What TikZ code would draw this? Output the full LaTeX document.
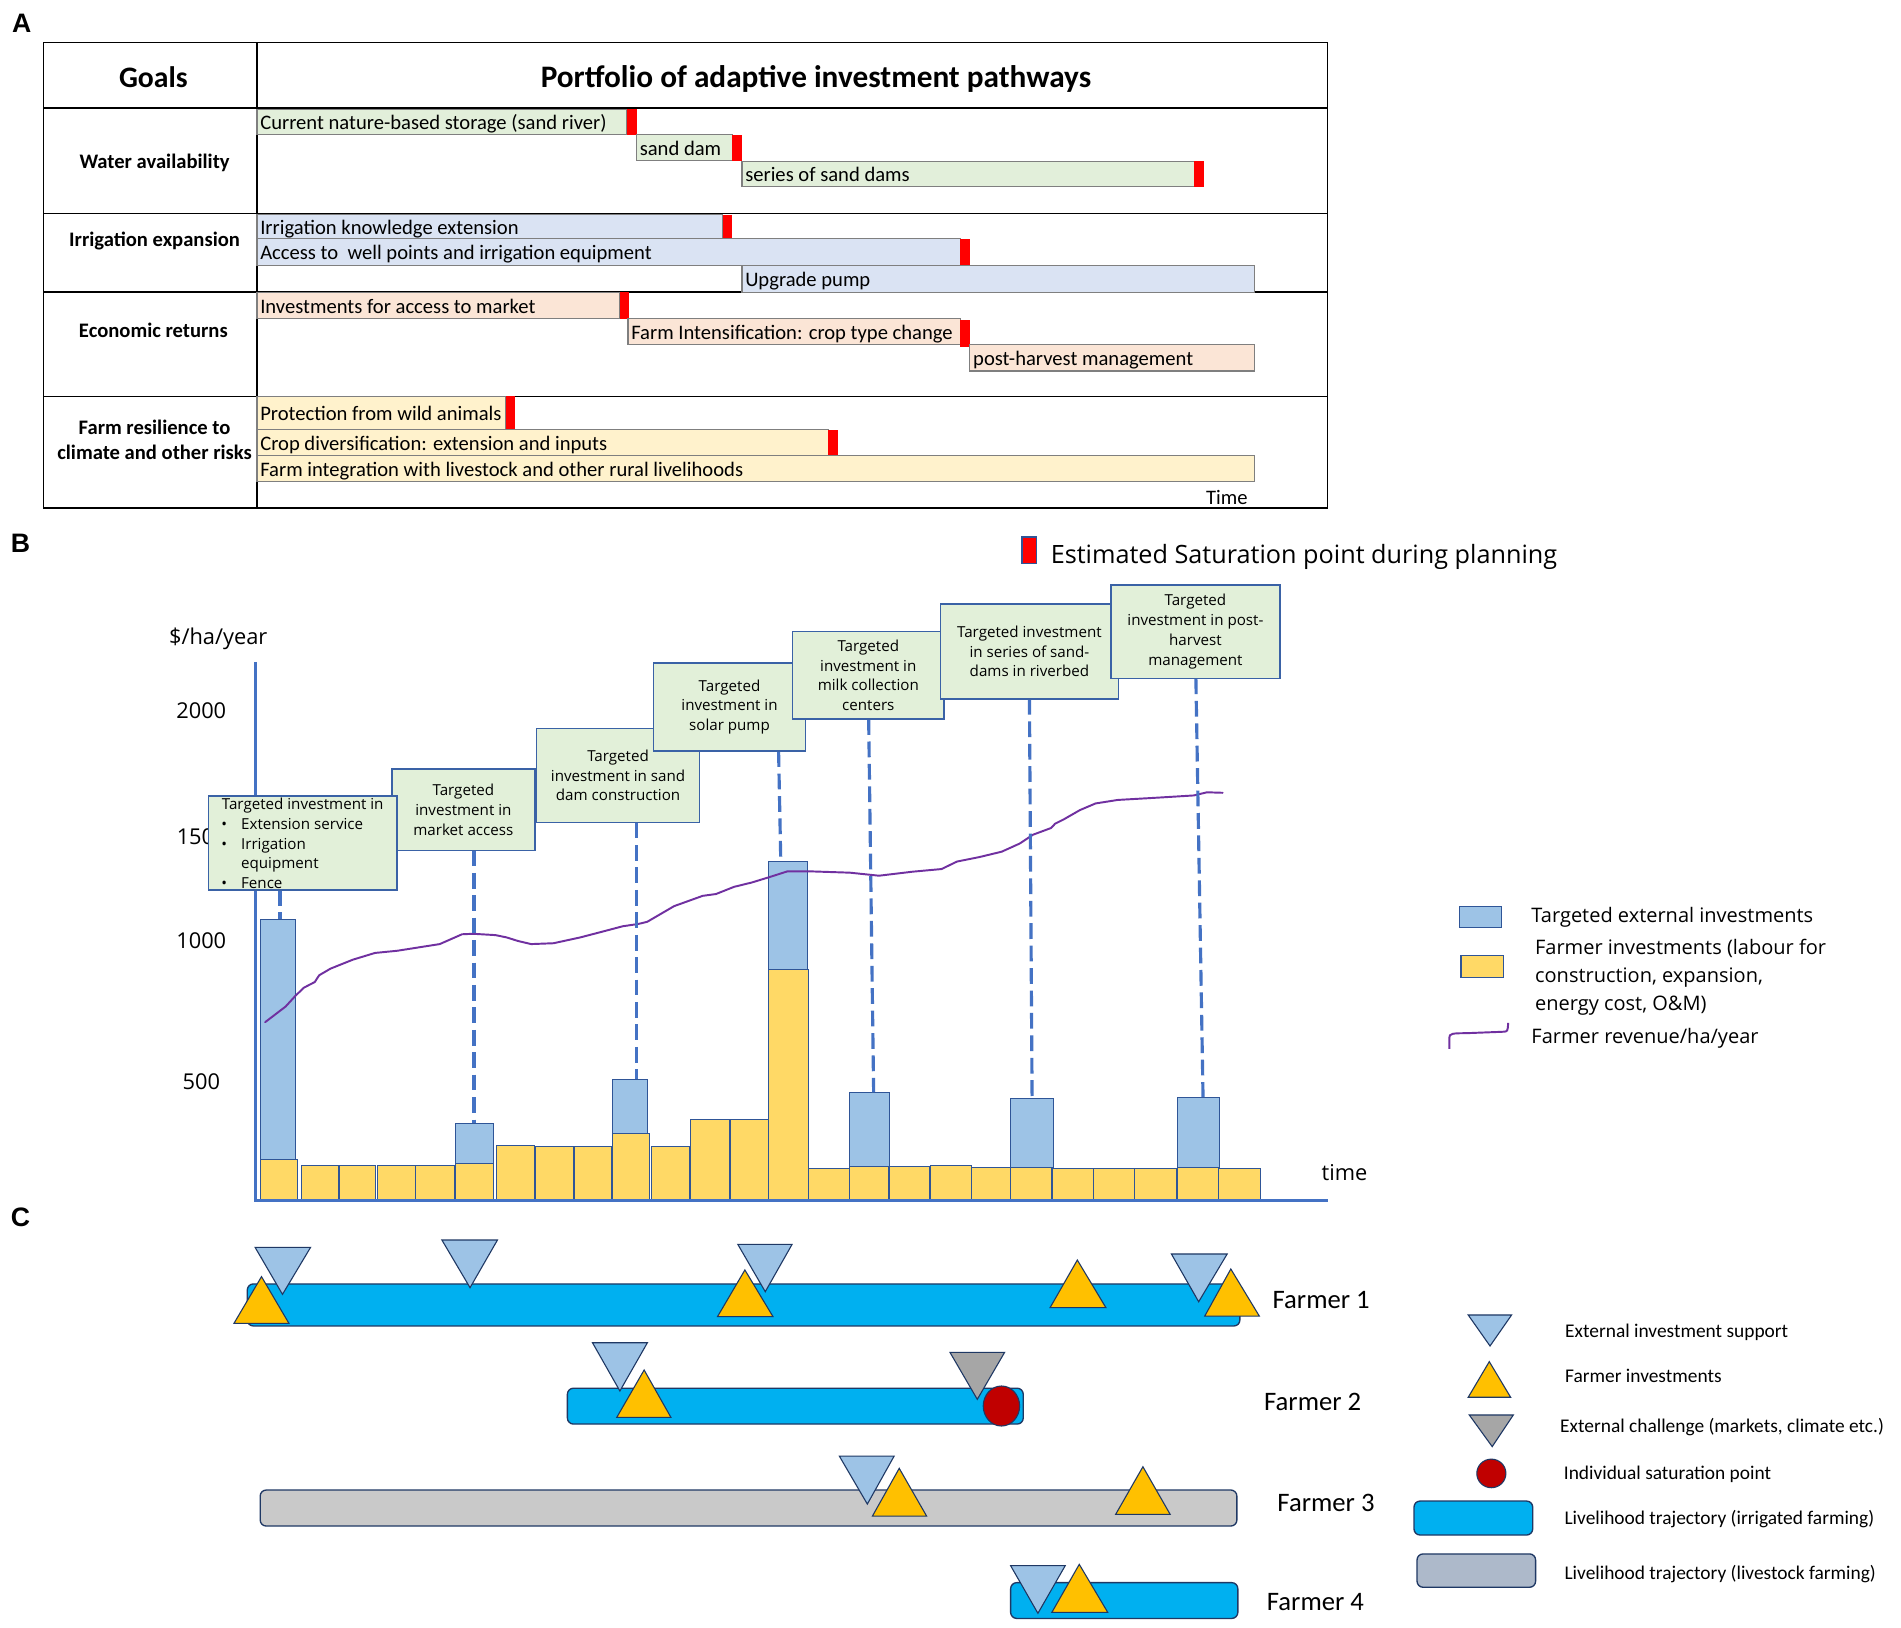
\documentclass[tikz,border=0pt]{standalone}
\usepackage{fontspec}
\setmainfont{Carlito}
\newfontfamily\osans{Open Sans}
\newfontfamily\lsans{Liberation Sans}
\definecolor{greenA}{HTML}{E2EFDA}
\definecolor{blueA}{HTML}{DAE3F3}
\definecolor{peachA}{HTML}{FBE5D6}
\definecolor{yellowA}{HTML}{FFF2CC}
\definecolor{barline}{HTML}{7F7F7F}
\definecolor{satred}{HTML}{FF0000}
\definecolor{axisblue}{HTML}{4472C4}
\definecolor{boxfill}{HTML}{E2F0D9}
\definecolor{boxline}{HTML}{3A62A6}
\definecolor{ybarfill}{HTML}{FFD966}
\definecolor{bbarfill}{HTML}{9DC3E6}
\definecolor{bbarline}{HTML}{2F5597}
\definecolor{revpurple}{HTML}{7030A0}
\definecolor{cyanC}{HTML}{00B0F0}
\definecolor{navyC}{HTML}{1F3864}
\definecolor{grayC}{HTML}{C9C9C9}
\definecolor{triblue}{HTML}{9DC3E6}
\definecolor{triyel}{HTML}{FFC000}
\definecolor{trigray}{HTML}{A6A6A6}
\definecolor{redC}{HTML}{C00000}
\definecolor{livegray}{HTML}{ADB9CA}
\newcommand\pbar[7]{%
  \filldraw[fill=#6, pbarline] (#2,#3) rectangle (#4,#5);
  \node[bartxt] (#1) at ({#2+2.5},{(#3+#5)/2+6.3}) {#7};}
\newcommand\satmark[4]{\fill[satred] (#1,#2) rectangle (#3,#4);}
\newcommand\ybar[3]{\filldraw[fill=ybarfill, bbarstyle] (#1,#3) rectangle (#2,989.5);}
\newcommand\bbar[4]{\filldraw[fill=bbarfill, bbarstyle] (#1,#3) rectangle (#2,#4);}
\newcommand\tri[6]{\filldraw[fill=#6, tristyle] (#1,#3) -- (#2,#3) -- (#4,#5) -- cycle;}
\newcommand\dashln[5]{\coordinate (#1a) at (#2,#3); \coordinate (#1b) at (#4,#5); \draw[dashstyle] (#1a) -- (#1b);}
\newcommand\bul{\makebox[16.3pt][l]{\textbullet}}
\begin{document}
\begin{tikzpicture}[x=1pt,y=-1pt,
  lab/.style={font=\lsans\bfseries\fontsize{22}{26}\selectfont, inner sep=0},
  hdr/.style={font=\bfseries\fontsize{24.5}{29}\selectfont, inner sep=0, anchor=base},
  goal/.style={font=\bfseries\fontsize{17}{21}\selectfont, inner sep=0, anchor=base},
  bartxt/.style={font=\fontsize{17}{20}\selectfont, inner sep=0, anchor=base west},
  tbl/.style={draw=black, line width=1.2pt},
  pbarline/.style={draw=barline, line width=0.9pt},
  bbarstyle/.style={draw=bbarline, line width=0.8pt},
  tristyle/.style={draw=navyC, line width=0.9pt, line join=miter},
  dashstyle/.style={draw=axisblue, line width=2.6pt, dash pattern=on 13pt off 5.5pt},
  tbox/.style={draw=boxline, fill=boxfill, line width=1.3pt, inner sep=0, align=center,
     font=\osans\fontsize{12.5}{16.3}\selectfont},
  btxt/.style={font=\osans\fontsize{12.5}{16.3}\selectfont, inner sep=0, align=left, anchor=west},
  axlbl/.style={font=\osans\fontsize{18}{22}\selectfont, inner sep=0, anchor=base},
  legB/.style={font=\osans\fontsize{16.5}{23}\selectfont, inner sep=0, anchor=base west},
  farm/.style={font=\fontsize{22}{26}\selectfont, inner sep=0, anchor=base},
  legC/.style={font=\fontsize{16}{19}\selectfont, inner sep=0, anchor=base west},
  traj/.style={draw=navyC, line width=1.1pt, rounded corners=5pt},
]
\useasboundingbox (0,0) rectangle (1568,1342);
\fill[white] (0,0) rectangle (1568,1342);

% ================= Panel A =================
\node[lab] (labA) at (18,19) {A};
\draw[tbl] (36,35) rectangle (1095,419);
\draw[tbl] (36,89) -- (1095,89);
\draw[tbl] (36,176) -- (1095,176);
\draw[tbl] (36,241) -- (1095,241);
\draw[tbl] (36,327) -- (1095,327);
\draw[tbl] (212,35) -- (212,419);
\node[hdr] (hgoals) at (126.5,72) {Goals};
\node[hdr, font=\bfseries\fontsize{25.8}{30}\selectfont] (hport) at (673,72) {Portfolio of adaptive investment pathways};
\node[goal] (gwater) at (127.5,139) {Water availability};
\node[goal] (girr) at (127.5,203.5) {Irrigation expansion};
\node[goal] (gecon) at (126.5,278.5) {Economic returns};
\node[goal] (gres1) at (127.5,358) {Farm resilience to};
\node[goal] (gres2) at (127.5,379) {climate and other risks};

\pbar{p1}{212}{90}{517}{111}{greenA}{Current nature-based storage (sand river)}
\satmark{517}{90}{525}{111}
\pbar{p2}{525}{111}{604}{132.5}{greenA}{sand dam}
\satmark{604}{111}{612}{132.5}
\pbar{p3}{612}{133}{985}{154}{greenA}{series of sand dams}
\satmark{985}{133}{993}{154}

\pbar{p4}{212}{177}{596}{197}{blueA}{Irrigation knowledge extension}
\satmark{596}{177}{604}{197}
\pbar{p5}{212}{197}{792}{219}{blueA}{Access to\ \ well points and irrigation equipment}
\satmark{792}{197}{800}{219}
\pbar{p6}{612}{219}{1035}{241}{blueA}{Upgrade pump}

\pbar{p7}{212}{241}{511}{263}{peachA}{Investments for access to market}
\satmark{511}{241}{519}{263}
\pbar{p8}{518}{263}{792}{284.5}{peachA}{Farm Intensification: crop type change}
\satmark{792}{264}{800}{286}
\pbar{p9}{800}{284.5}{1035}{306}{peachA}{post-harvest management}

\pbar{p10}{212}{327}{417}{354.5}{yellowA}{Protection from wild animals}
\satmark{417}{327}{425}{354.5}
\pbar{p11}{212}{354.5}{683}{376}{yellowA}{Crop diversification: extension and inputs}
\satmark{683}{354.5}{691}{376}
\pbar{p12}{212}{376}{1035}{397}{yellowA}{Farm integration with livestock and other rural livelihoods}
\node[font=\fontsize{17}{20}\selectfont, inner sep=0, anchor=base] (timeA) at (1012,416) {Time};

% ================= Panel B =================
\node[lab] (labB) at (17,448) {B};
\filldraw[fill=satred, draw=bbarline, line width=1pt] (843,443) rectangle (855,465);
\node[font=\osans\fontsize{20.8}{25}\selectfont, inner sep=0, anchor=base west] (satlbl) at (866.5,464.5) {Estimated Saturation point during planning};
\node[font=\osans\fontsize{18}{22}\selectfont, inner sep=0, anchor=base] (ylab) at (180,532) {\$/ha/year};
\node[axlbl] (t2000) at (166,592.4) {2000};
\node[axlbl, anchor=base west] (t1500) at (145.6,696.3) {150};
\node[axlbl] (t1000) at (166,782) {1000};
\node[axlbl] (t500) at (166,898.4) {500};
\node[axlbl] (timeB) at (1109,973.5) {time};

% yellow farmer bars
\ybar{215}{245.5}{956}
\ybar{249}{279}{961}
\ybar{280}{310}{961}
\ybar{311.5}{342.4}{961}
\ybar{343}{374.5}{961}
\ybar{375.5}{407}{960}
\ybar{409.4}{440.7}{944.4}
\ybar{441.5}{472.8}{946}
\ybar{473.9}{504.4}{946}
\ybar{505}{536}{934.8}
\ybar{537.2}{568.5}{946}
\ybar{569.3}{601.7}{923.4}
\ybar{602.4}{634.1}{923.4}
\ybar{634.1}{666.8}{799.7}
\ybar{666.8}{700.3}{963.5}
\ybar{701}{733.1}{962}
\ybar{733.9}{766.6}{962}
\ybar{767.4}{801.6}{961.3}
\ybar{801.6}{833.6}{963}
\ybar{833.6}{867.5}{963}
\ybar{868.2}{901.7}{963.5}
\ybar{901.7}{936}{963.5}
\ybar{936}{970.6}{963.5}
\ybar{971}{1005}{963}
\ybar{1005}{1040}{963.5}
% blue targeted bars
\bbar{215}{243.7}{758.4}{956}
\bbar{375.5}{407}{926.3}{960}
\bbar{505}{534}{890}{934.8}
\bbar{634}{666}{710.6}{799.7}
\bbar{700.5}{733.5}{900.9}{962}
\bbar{833.6}{869}{905.7}{963}
\bbar{971}{1005.5}{905}{963}
% axes
\draw[axisblue, line width=2.2pt] (211,546) -- (211,990) -- (1095,990);
% revenue line
\draw[revpurple, line width=1.6pt, line join=round, line cap=round]
 (218.7,843.1) -- (235.6,830.2) -- (243,822.1) -- (250.4,814.8) -- (259.6,810) -- (263.3,804.4)
 -- (272.5,799) -- (290.9,791.6) -- (309.3,786) -- (327.7,784.2) -- (346.1,781.3) -- (362.7,778.7)
 -- (381.1,770.6) -- (390.3,770.2) -- (408.7,771.3) -- (417.9,773.2) -- (427.1,776.1) -- (438.1,778.7)
 -- (456.5,778) -- (478.6,773.2) -- (497,768.4) -- (513.6,764) -- (526.5,762.1) -- (533.9,760.3)
 -- (556,747.4) -- (579.6,738.9) -- (590.6,737.4) -- (605.4,731.5) -- (620.1,727.9) -- (634.8,723.4)
 -- (649.5,718.7) -- (668,718.7) -- (701.1,719.8) -- (725,722.3) -- (752.6,719) -- (776.6,716.8)
 -- (789.4,710.6) -- (807.9,706.9) -- (826.2,702.5) -- (841,695.8) -- (852,688.5) -- (866.8,683)
 -- (870.4,679.3) -- (877.8,675.6) -- (890.7,668.2) -- (903.6,662.7) -- (922,659.8) -- (955.1,657.9)
 -- (984.6,656.1) -- (995.6,653.5) -- (1008.5,653.9);
% dashed connectors
\dashln{d1}{231}{734}{231}{758.4}
\dashln{d2}{391}{701.4}{391}{926.3}
\dashln{d3}{524.7}{678.5}{524.7}{890}
\dashln{d4}{642.2}{619.6}{644}{710.6}
\dashln{d5}{716.5}{593.1}{720.6}{900.9}
\dashln{d6}{849.1}{576.5}{851.3}{905.7}
\dashln{d7}{986.4}{559.6}{992.3}{905}
% boxes
\node[tbox, minimum width=117.8pt, minimum height=67pt] (b2) at (382.2,667.9) {Targeted\\investment in\\market access};
\node[tbox, minimum width=155.3pt, minimum height=77.3pt] (b1) at (249.7,695.2) {};
\node[btxt] (b1t) at (182.4,695.6) {\hspace{0.4pt}Targeted investment in\\\bul Extension service\\\bul Irrigation\\\hspace{16.3pt}equipment\\\bul Fence};
\node[tbox, minimum width=134.4pt, minimum height=77.7pt] (b3) at (509.8,639.65) {Targeted\\investment in sand\\dam construction};
\node[tbox, minimum width=125.2pt, minimum height=72.9pt] (b4) at (601.7,583.15) {Targeted\\investment in\\solar pump};
\node[tbox, minimum width=125.2pt, minimum height=72.2pt] (b5) at (716.2,557) {Targeted\\investment in\\milk collection\\centers};
\node[tbox, minimum width=146.6pt, minimum height=78.4pt] (b6) at (849.1,537.3) {Targeted investment\\in series of sand-\\dams in riverbed};
\node[tbox, minimum width=139.1pt, minimum height=77.3pt] (b7) at (986,521) {Targeted\\investment in post-\\harvest\\management};
% legend B
\filldraw[fill=bbarfill, draw=bbarline, line width=1.1pt] (1204,747.5) rectangle (1238.2,765.2);
\node[legB] (lgB1) at (1263,761.3) {Targeted external investments};
\filldraw[fill=ybarfill, draw=bbarline, line width=1.1pt] (1205,788) rectangle (1240,806.2);
\node[legB] (lgB2) at (1266,787.2) {Farmer investments (labour for};
\node[legB] (lgB3) at (1266,810.2) {construction, expansion,};
\node[legB] (lgB4) at (1266,833.2) {energy cost, O\&M)};
\draw[revpurple, line width=1.6pt] (1195.4,865.2) -- (1195.4,856) .. controls (1195.4,852.5) and (1198,852.2) .. (1209,852.2) -- (1239.9,851) .. controls (1243.5,850.8) .. (1244,843.7);
\node[legB] (lgB5) at (1263,860.7) {Farmer revenue/ha/year};

% ================= Panel C =================
\node[lab] (labC) at (17,1004) {C};
\filldraw[fill=cyanC, traj] (204,1059) rectangle (1022.7,1093.7);
\filldraw[fill=cyanC, traj] (468,1145) rectangle (844,1174.6);
\filldraw[fill=grayC, traj] (214.6,1229) rectangle (1020.2,1258.7);
\filldraw[fill=cyanC, traj] (833.6,1305.4) rectangle (1021,1334.9);
% Farmer 1
\tri{210.4}{256.2}{1028.8}{233}{1067.6}{triblue}
\tri{364.5}{410.3}{1022.8}{387.7}{1062.1}{triblue}
\tri{608.6}{653.3}{1026.4}{631.2}{1065.4}{triblue}
\tri{966.2}{1012.2}{1034.3}{988.7}{1073.7}{triblue}
\tri{193}{238.3}{1091.5}{215.7}{1053}{triyel}
\tri{591.8}{637.6}{1086}{614.4}{1047.5}{triyel}
\tri{866.1}{912.2}{1078.6}{888.6}{1039.3}{triyel}
\tri{993.7}{1038.7}{1085.5}{1015.2}{1046.7}{triyel}
% Farmer 2
\tri{488.7}{534}{1107.5}{511.3}{1147.3}{triblue}
\tri{508.7}{553.4}{1169.1}{531.3}{1130}{triyel}
\tri{783.6}{828.6}{1115.5}{806.1}{1154.2}{trigray}
\filldraw[fill=redC, draw=navyC, line width=0.9pt] (826,1159.7) ellipse [x radius=15pt, y radius=16.5pt];
% Farmer 3
\tri{692.3}{737.5}{1201}{715.4}{1240.6}{triblue}
\tri{719.6}{764.3}{1250.5}{741.7}{1211.1}{triyel}
\tri{920.2}{965.2}{1249.1}{942.7}{1209.8}{triyel}
% Farmer 4
\tri{833.6}{878.6}{1291.4}{856.1}{1330.7}{triblue}
\tri{867.6}{913.7}{1329.9}{890.2}{1290.3}{triyel}
\node[farm] (f1) at (1089.7,1079.3) {Farmer 1};
\node[farm] (f2) at (1082.7,1163) {Farmer 2};
\node[farm] (f3) at (1093.7,1247) {Farmer 3};
\node[farm] (f4) at (1085,1328) {Farmer 4};
% legend C
\tri{1211}{1246.8}{1084.6}{1229}{1110.2}{triblue}
\tri{1211}{1246}{1152.5}{1228.4}{1123.1}{triyel}
\tri{1211.9}{1248.2}{1167.1}{1230.8}{1193.2}{trigray}
\filldraw[fill=redC, draw=navyC, line width=0.9pt] (1230.1,1215.3) ellipse [x radius=12pt, y radius=11.8pt];
\filldraw[fill=cyanC, traj] (1166.3,1238.1) rectangle (1264.2,1266.1);
\filldraw[fill=livegray, traj] (1168.8,1281.7) rectangle (1266.6,1309.2);
\node[legC] (lc1) at (1290.8,1103) {External investment support};
\node[legC] (lc2) at (1290.8,1140.4) {Farmer investments};
\node[legC] (lc3) at (1286.7,1181.8) {External challenge (markets, climate etc.)};
\node[legC] (lc4) at (1289.7,1220.7) {Individual saturation point};
\node[legC] (lc5) at (1290.3,1257.8) {Livelihood trajectory (irrigated farming)};
\node[legC] (lc6) at (1290.3,1303.2) {Livelihood trajectory (livestock farming)};
\end{tikzpicture}
\end{document}
